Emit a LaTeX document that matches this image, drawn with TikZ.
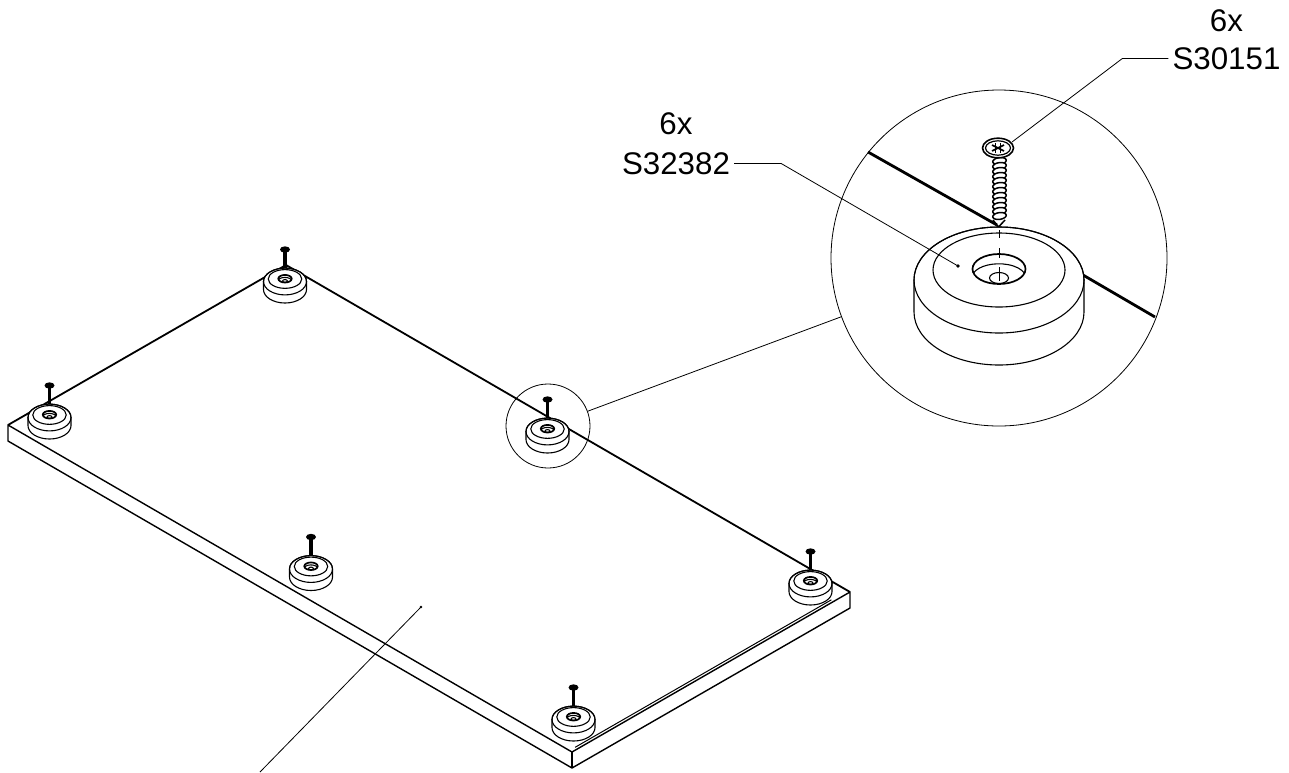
\documentclass[tikz,border=0pt]{standalone}
\usepackage{fontspec}
\setmainfont{Liberation Sans}
\usetikzlibrary{positioning,calc}
\tikzset{%
  board/.style = {
    line width = #1,
    line join = round,
  },
  board/.default = {1.4pt},
  leader/.style = {
    line width = 0.8pt,
  },
  lens/.style = {
    circle,
    draw,
    line width = 0.8pt,
    inner sep = 0pt,
    minimum size = #1,
  },
  callout/.style = {
    font = \fontsize{31.3}{36}\selectfont,
    inner sep = 4pt,
  },
  tinyscrew/.pic = {
    \draw[line width = 3.4pt] (0,12) -- (0,31);
    \fill (0,32) ellipse [x radius = 5, y radius = 3.2];
  },
  foot/.pic = {
    \draw[line width = 1.1pt, fill = white] (-85,0) -- (-85,-32)
      arc [start angle = 180, end angle = 360, x radius = 85, y radius = 53]
      -- (85,0)
      arc [start angle = 0, end angle = 180, x radius = 85, y radius = 53] -- cycle;
    \draw[line width = 1.1pt] (0,0) ellipse [x radius = 85, y radius = 53];
    \draw[line width = 1.1pt] (0,10) ellipse [x radius = 66, y radius = 37];
    \draw[line width = 1.7pt] (0,11) ellipse [x radius = 26.5, y radius = 15];
    \draw[line width = 1.1pt] (-25.5,7) arc [start angle = 160, end angle = 20, x radius = 27, y radius = 14];
    \draw[line width = 1.1pt] (0,2) ellipse [x radius = 9.5, y radius = 5.5];
  },
}

\begin{document}
\begin{tikzpicture}[x=1pt, y=1pt]
\useasboundingbox (0,0) rectangle (1289,-772);

\coordinate(l1) at (8,-425);
\coordinate(l2) at (8,-441);
\coordinate(f1) at (572,-752);
\coordinate(f2) at (572,-768);
\coordinate(r1) at (850,-592);
\coordinate(r2) at (850,-608);
\coordinate(b1) at (286,-265);

\draw[board] (l1) -- (f1) -- (r1) -- (r2) -- (f2) -- (l2) -- cycle;
\draw[board=1.8pt] (f1) -- (f2);
\draw[board=1.8pt] (l1) -- (b1) -- (r1);
\draw[board=1pt] ($(f1)+(3.1,4.7)$) -- ($(r1)+(-18.6,-7.8)$);

\node(ring) [lens=84pt] at (548,-426) {};
\node(zoom) [lens=336pt] at (999,-258) {};
\draw[leader] (ring) -- (zoom);

\foreach \x/\y in {285/281.5, 49.5/417.5, 547.5/431.5, 311/569, 810.5/583.5, 573.5/719.5} {
  \pic at (\x,-\y) {tinyscrew};
  \pic[scale=0.253] at (\x,-\y) {foot};
}

\draw[board=2.8pt] (868,-152) -- (997,-225);
\draw[board=2.8pt] (1083,-275) -- (1155,-317);

\foreach \y in {161,166,...,216} {
  \draw[line width = 1.5pt, fill = white, rotate around = {8:(999.5,-\y)}] (999.5,-\y) ellipse [x radius = 6.8, y radius = 3.4];
}
\draw[line width = 1.5pt] (993,-220) -- (998.5,-227) -- (1005,-220);
\coordinate(head) at (998,-148);
\draw[line width = 1.6pt, fill = white] (head) ellipse [x radius = 15.5, y radius = 9.8];
\draw[line width = 1.2pt] (head) ellipse [x radius = 12.5, y radius = 7.2];
\draw[line width = 1.6pt] ($(head)+(-6,3)$) -- ($(head)+(6,-3)$);
\draw[line width = 1.6pt] ($(head)+(-6,-3)$) -- ($(head)+(6,3)$);
\draw[line width = 1.6pt] ($(head)+(-2.5,5)$) -- ($(head)+(-2.5,-5)$);
\draw[line width = 1.6pt] ($(head)+(2.5,5)$) -- ($(head)+(2.5,-5)$);

\pic at (999,-280) {foot};
\draw[leader] (999,-230) -- (999,-238);
\draw[leader] (999,-248) -- (999,-258);
\draw[leader] (999,-267) -- (999,-281);

\node(c1) [callout] at (1226.5,-58.5) {S30151};
\node(c2) [callout, above = 7.6pt of c1] {6x};
\node(c3) [callout] at (676,-163.5) {S32382};
\node(c4) [callout, above = 9.6pt of c3] {6x};

\coordinate(s1) at (1012,-142);
\coordinate(s2) at (958,-266);
\coordinate(s3) at (421,-607);
\coordinate(s4) at (260,-772);
\draw[leader] (c1.west) -- ++(-46,0) -- (s1);
\draw[leader] (c3.east) -- ++(47,0) -- (s2);
\draw[leader] (s3) -- (s4);
\fill (s2) circle (1.8);
\fill (s3) circle (1.4);
\end{tikzpicture}
\end{document}
